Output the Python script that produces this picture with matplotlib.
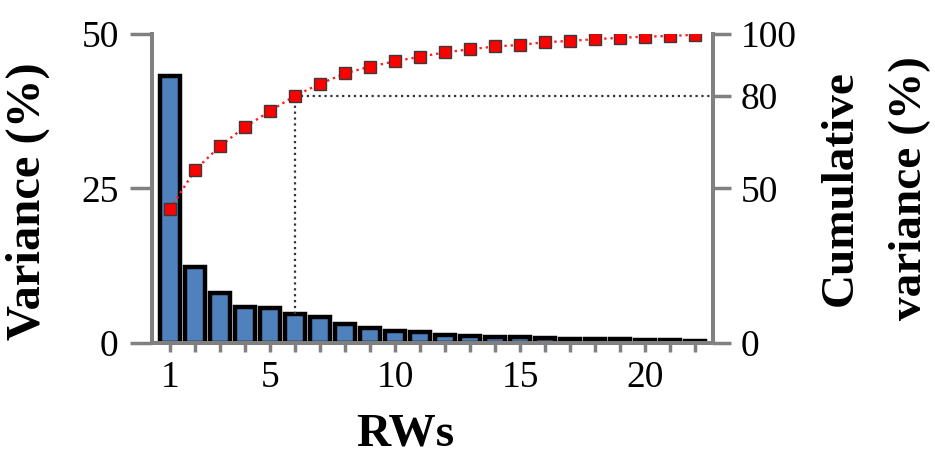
import numpy as np
import matplotlib
matplotlib.use('Agg')
import matplotlib.pyplot as plt

plt.rcParams['font.family'] = ['Liberation Serif', 'DejaVu Serif']

# explained variance per RW (%) and running total (%)
rws = list(range(1, 23))
variance = [43.1, 12.3, 8.1, 5.8, 5.7, 4.7, 4.2, 3.1, 2.4, 2.0, 1.7, 1.3,
            1.1, 1.05, 0.9, 0.85, 0.7, 0.7, 0.7, 0.55, 0.55, 0.35]
cumulative = [43.4, 55.9, 63.7, 69.9, 75.0, 80.0, 83.8, 87.2, 89.4, 91.1, 92.6,
              94.0, 95.0, 95.9, 96.4, 97.3, 97.7, 98.3, 98.7, 99.1, 99.3, 99.7]
x_ticks_shown = [1, 5, 10, 15, 20]
left_ticks = [0, 25, 50]
right_ticks = [0, 50, 80, 100]
cutoff_rw = 6
cutoff_level = 80

gray = '#808080'
bar_blue = '#4F81BD'

fig = plt.figure(figsize=(9.35, 4.54), dpi=100)
ax = fig.add_axes([0.1626, 0.2445, 0.6, 0.681])
ax2 = ax.twinx()

ax.bar(rws, variance, 0.82, color=bar_blue, edgecolor='black', linewidth=3.2, zorder=2)

ax2.plot(rws, cumulative, linestyle=':', color='#FF2020', linewidth=1.7,
         marker='s', markersize=8.5, markerfacecolor='#FF0000',
         markeredgecolor='#3a3a3a', markeredgewidth=1.0, zorder=4)

# 80 % cut-off guide lines
i6 = rws.index(cutoff_rw)
ax2.plot([cutoff_rw, cutoff_rw], [variance[i6] * 2, cutoff_level],
         linestyle=':', color='#333333', linewidth=1.6, zorder=3)
ax2.plot([cutoff_rw, 22.72], [cutoff_level, cutoff_level],
         linestyle=':', color='#333333', linewidth=1.6, zorder=3)

ax.set_xlim(0.28, 22.72)
ax.set_ylim(0, 50)
ax2.set_ylim(0, 100)

ax.set_xticks(rws)
ax.set_xticklabels([str(r) if r in x_ticks_shown else '' for r in rws])
ax.set_yticks(left_ticks)
ax2.set_yticks(right_ticks)

for a in (ax, ax2):
    a.spines['top'].set_visible(False)
    for s in ('left', 'right', 'bottom'):
        a.spines[s].set_color(gray)
        a.spines[s].set_linewidth(2.9)
ax.spines['right'].set_visible(False)
ax2.spines['left'].set_visible(False)
ax2.spines['bottom'].set_visible(False)

ax.tick_params(axis='x', length=6.5, width=2.5, color=gray, labelsize=27, pad=6)
ax.tick_params(axis='y', length=16, width=2.5, color=gray, labelsize=27, pad=8)
ax2.tick_params(axis='y', length=13, width=2.5, color=gray, labelsize=27, pad=7)

ax.set_xlabel('RWs', fontsize=34, fontweight='bold')
ax.xaxis.set_label_coords(0.451, -0.228)
ax.set_ylabel('Variance (%)', fontsize=35, fontweight='bold')
ax.yaxis.set_label_coords(-0.182, 0.458)
ax2.set_ylabel('Cumulative\nvariance (%)', fontsize=34, fontweight='bold',
               linespacing=1.85)
ax2.yaxis.set_label_coords(1.19, 0.5)

fig.savefig('out.png', dpi=100)
